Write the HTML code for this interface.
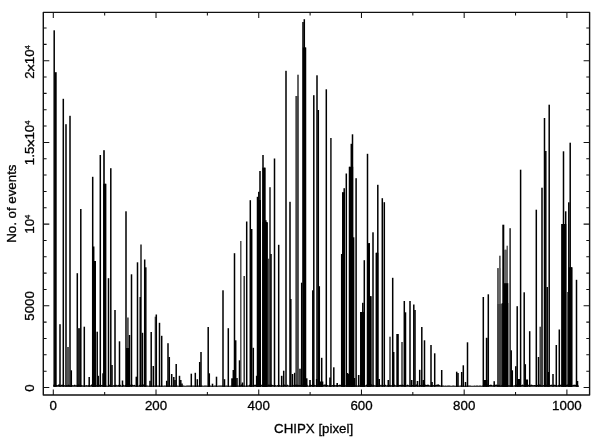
<!DOCTYPE html>
<html><head><meta charset="utf-8"><title>CHIPX histogram</title>
<style>
html,body{margin:0;padding:0;background:#fff;}
svg{display:block}
text{font-family:"Liberation Sans",Arial,Helvetica,sans-serif;font-size:13.3px;fill:#000;stroke:#000;stroke-width:0.3px}
</style></head><body>
<svg width="600" height="438" viewBox="0 0 600 438">
<rect width="600" height="438" fill="#fff"/>
<g>
<rect x="53.45" y="30.3" width="1.50" height="356.5" fill="#000"/>
<rect x="54.70" y="72.2" width="2.00" height="314.6" fill="#000"/>
<rect x="62.55" y="98.8" width="1.50" height="288.0" fill="#000"/>
<rect x="65.25" y="124.2" width="1.50" height="262.6" fill="#000"/>
<rect x="69.25" y="115.8" width="1.50" height="271.0" fill="#000"/>
<rect x="59.25" y="324.2" width="1.50" height="62.6" fill="#000"/>
<rect x="66.50" y="347.0" width="3.00" height="39.8" fill="#555"/>
<rect x="70.55" y="370.3" width="1.50" height="16.5" fill="#000"/>
<rect x="76.55" y="273.2" width="1.50" height="113.6" fill="#000"/>
<rect x="77.50" y="328.2" width="3.00" height="58.6" fill="#222"/>
<rect x="80.05" y="209.0" width="1.50" height="177.8" fill="#000"/>
<rect x="83.55" y="326.7" width="1.50" height="60.1" fill="#000"/>
<rect x="88.45" y="377.0" width="1.50" height="9.8" fill="#000"/>
<rect x="91.95" y="176.8" width="1.50" height="210.0" fill="#000"/>
<rect x="92.95" y="246.5" width="1.50" height="140.3" fill="#000"/>
<rect x="94.45" y="261.0" width="1.50" height="125.8" fill="#000"/>
<rect x="92.20" y="261.0" width="3.60" height="125.8" fill="#000"/>
<rect x="96.45" y="331.7" width="1.50" height="55.1" fill="#000"/>
<rect x="97.55" y="375.8" width="1.50" height="11.0" fill="#000"/>
<rect x="99.55" y="155.0" width="1.50" height="231.8" fill="#000"/>
<rect x="102.25" y="373.3" width="1.50" height="13.5" fill="#000"/>
<rect x="103.20" y="150.2" width="1.60" height="236.6" fill="#000"/>
<rect x="104.75" y="183.8" width="1.50" height="203.0" fill="#000"/>
<rect x="103.20" y="183.8" width="3.00" height="203.0" fill="#000"/>
<rect x="107.75" y="278.2" width="1.50" height="108.6" fill="#000"/>
<rect x="110.05" y="168.2" width="1.50" height="218.6" fill="#000"/>
<rect x="111.25" y="365.0" width="1.50" height="21.8" fill="#000"/>
<rect x="114.25" y="310.0" width="1.50" height="76.8" fill="#000"/>
<rect x="118.75" y="341.3" width="1.50" height="45.5" fill="#000"/>
<rect x="121.75" y="380.5" width="1.50" height="6.3" fill="#000"/>
<rect x="125.25" y="211.3" width="1.50" height="175.5" fill="#000"/>
<rect x="126.50" y="317.5" width="2.30" height="69.3" fill="#555"/>
<rect x="128.75" y="335.0" width="1.50" height="51.8" fill="#000"/>
<rect x="126.00" y="348.0" width="3.50" height="38.8" fill="#000"/>
<rect x="130.75" y="274.3" width="1.50" height="112.5" fill="#000"/>
<rect x="135.55" y="376.7" width="1.50" height="10.1" fill="#000"/>
<rect x="136.75" y="262.3" width="1.50" height="124.5" fill="#000"/>
<rect x="140.10" y="244.5" width="1.80" height="142.3" fill="#444"/>
<rect x="139.50" y="297.0" width="1.50" height="89.8" fill="#000"/>
<rect x="141.75" y="332.8" width="1.50" height="54.0" fill="#000"/>
<rect x="143.95" y="259.5" width="1.50" height="127.3" fill="#000"/>
<rect x="145.05" y="267.3" width="1.50" height="119.5" fill="#000"/>
<rect x="150.45" y="332.0" width="1.50" height="54.8" fill="#000"/>
<rect x="152.55" y="366.0" width="1.50" height="20.8" fill="#000"/>
<rect x="149.25" y="380.8" width="1.50" height="6.0" fill="#000"/>
<rect x="154.65" y="316.7" width="1.30" height="70.1" fill="#444"/>
<rect x="155.55" y="314.5" width="1.50" height="72.3" fill="#000"/>
<rect x="158.75" y="322.8" width="1.50" height="64.0" fill="#000"/>
<rect x="160.95" y="335.8" width="1.50" height="51.0" fill="#000"/>
<rect x="165.95" y="380.8" width="1.50" height="6.0" fill="#000"/>
<rect x="167.25" y="343.2" width="1.50" height="43.6" fill="#000"/>
<rect x="168.55" y="357.0" width="1.50" height="29.8" fill="#000"/>
<rect x="170.95" y="374.0" width="1.50" height="12.8" fill="#000"/>
<rect x="173.05" y="377.0" width="1.50" height="9.8" fill="#000"/>
<rect x="174.25" y="380.0" width="1.50" height="6.8" fill="#000"/>
<rect x="175.45" y="364.0" width="1.50" height="22.8" fill="#000"/>
<rect x="178.75" y="375.8" width="1.50" height="11.0" fill="#000"/>
<rect x="180.05" y="380.0" width="1.50" height="6.8" fill="#000"/>
<rect x="181.25" y="383.5" width="1.50" height="3.3" fill="#000"/>
<rect x="190.55" y="373.7" width="1.50" height="13.1" fill="#000"/>
<rect x="194.55" y="372.8" width="1.50" height="14.0" fill="#000"/>
<rect x="196.55" y="379.2" width="1.50" height="7.6" fill="#000"/>
<rect x="198.95" y="362.0" width="1.50" height="24.8" fill="#000"/>
<rect x="200.25" y="352.0" width="1.50" height="34.8" fill="#000"/>
<rect x="207.45" y="327.0" width="1.50" height="59.8" fill="#000"/>
<rect x="208.55" y="373.3" width="1.50" height="13.5" fill="#000"/>
<rect x="211.75" y="383.7" width="1.50" height="3.1" fill="#000"/>
<rect x="215.75" y="376.7" width="1.50" height="10.1" fill="#000"/>
<rect x="222.25" y="290.3" width="1.50" height="96.5" fill="#000"/>
<rect x="223.75" y="379.2" width="1.50" height="7.6" fill="#000"/>
<rect x="227.55" y="328.2" width="1.50" height="58.6" fill="#000"/>
<rect x="231.20" y="378.3" width="5.10" height="8.5" fill="#000"/>
<rect x="232.55" y="370.0" width="1.50" height="16.8" fill="#000"/>
<rect x="233.75" y="253.2" width="1.50" height="133.6" fill="#000"/>
<rect x="234.95" y="340.3" width="1.50" height="46.5" fill="#000"/>
<rect x="236.25" y="378.0" width="1.50" height="8.8" fill="#000"/>
<rect x="238.75" y="360.3" width="1.50" height="26.5" fill="#000"/>
<rect x="240.10" y="241.0" width="1.40" height="145.8" fill="#444"/>
<rect x="243.45" y="276.0" width="1.50" height="110.8" fill="#333"/>
<rect x="245.95" y="221.5" width="1.50" height="165.3" fill="#000"/>
<rect x="249.55" y="200.2" width="1.50" height="186.6" fill="#000"/>
<rect x="250.95" y="229.0" width="1.50" height="157.8" fill="#000"/>
<rect x="252.55" y="347.8" width="1.50" height="39.0" fill="#000"/>
<rect x="256.75" y="196.8" width="1.50" height="190.0" fill="#000"/>
<rect x="258.05" y="191.8" width="1.50" height="195.0" fill="#000"/>
<rect x="259.25" y="171.0" width="1.50" height="215.8" fill="#000"/>
<rect x="257.00" y="200.0" width="4.00" height="186.8" fill="#000"/>
<rect x="262.25" y="155.0" width="1.50" height="231.8" fill="#000"/>
<rect x="263.95" y="167.7" width="1.50" height="219.1" fill="#000"/>
<rect x="262.40" y="167.7" width="3.00" height="219.1" fill="#000"/>
<rect x="265.05" y="220.2" width="1.50" height="166.6" fill="#000"/>
<rect x="266.25" y="222.7" width="1.50" height="164.1" fill="#000"/>
<rect x="262.50" y="222.0" width="5.10" height="164.8" fill="#000"/>
<rect x="268.05" y="258.7" width="1.30" height="128.1" fill="#444"/>
<rect x="269.30" y="187.2" width="1.40" height="199.6" fill="#111"/>
<rect x="270.25" y="254.0" width="1.50" height="132.8" fill="#000"/>
<rect x="273.75" y="158.5" width="1.50" height="228.3" fill="#000"/>
<rect x="277.95" y="244.8" width="1.50" height="142.0" fill="#000"/>
<rect x="282.95" y="370.7" width="1.50" height="16.1" fill="#000"/>
<rect x="285.25" y="70.8" width="1.50" height="316.0" fill="#000"/>
<rect x="289.25" y="201.8" width="1.50" height="185.0" fill="#000"/>
<rect x="290.05" y="299.0" width="1.50" height="87.8" fill="#000"/>
<rect x="293.95" y="372.8" width="1.50" height="14.0" fill="#000"/>
<rect x="295.55" y="96.0" width="1.30" height="290.8" fill="#444"/>
<rect x="297.35" y="74.7" width="1.30" height="312.1" fill="#111"/>
<rect x="295.60" y="96.0" width="2.80" height="290.8" fill="#444"/>
<rect x="299.25" y="368.7" width="1.50" height="18.1" fill="#000"/>
<rect x="300.95" y="282.7" width="1.50" height="104.1" fill="#000"/>
<rect x="302.25" y="22.0" width="1.50" height="364.8" fill="#000"/>
<rect x="303.55" y="19.2" width="1.50" height="367.6" fill="#000"/>
<rect x="304.75" y="47.5" width="1.50" height="339.3" fill="#000"/>
<rect x="302.80" y="47.5" width="3.00" height="339.3" fill="#000"/>
<rect x="312.05" y="290.3" width="1.50" height="96.5" fill="#000"/>
<rect x="313.05" y="95.2" width="1.50" height="291.6" fill="#000"/>
<rect x="316.25" y="75.3" width="1.50" height="311.5" fill="#000"/>
<rect x="317.55" y="110.0" width="1.50" height="276.8" fill="#000"/>
<rect x="318.55" y="286.2" width="1.50" height="100.6" fill="#000"/>
<rect x="320.95" y="357.8" width="1.50" height="29.0" fill="#000"/>
<rect x="325.55" y="89.3" width="1.50" height="297.5" fill="#000"/>
<rect x="330.10" y="138.0" width="1.60" height="248.8" fill="#222"/>
<rect x="333.05" y="367.3" width="1.50" height="19.5" fill="#000"/>
<rect x="241.70" y="382.5" width="1.60" height="4.3" fill="#000"/>
<rect x="250.00" y="382.0" width="1.60" height="4.8" fill="#000"/>
<rect x="255.90" y="375.8" width="1.60" height="11.0" fill="#000"/>
<rect x="280.90" y="375.8" width="1.60" height="11.0" fill="#000"/>
<rect x="291.70" y="374.0" width="1.60" height="12.8" fill="#000"/>
<rect x="305.90" y="378.3" width="1.60" height="8.5" fill="#000"/>
<rect x="309.20" y="380.0" width="1.60" height="6.8" fill="#000"/>
<rect x="315.90" y="379.0" width="1.60" height="7.8" fill="#000"/>
<rect x="329.20" y="377.5" width="1.60" height="9.3" fill="#000"/>
<rect x="336.40" y="383.0" width="1.60" height="3.8" fill="#000"/>
<rect x="319.00" y="381.5" width="4.30" height="5.3" fill="#000"/>
<rect x="340.95" y="254.0" width="1.50" height="132.8" fill="#000"/>
<rect x="342.05" y="192.3" width="1.50" height="194.5" fill="#000"/>
<rect x="343.45" y="188.2" width="1.50" height="198.6" fill="#000"/>
<rect x="342.30" y="192.3" width="2.70" height="194.5" fill="#000"/>
<rect x="345.55" y="173.5" width="1.50" height="213.3" fill="#000"/>
<rect x="348.75" y="166.8" width="1.50" height="220.0" fill="#000"/>
<rect x="350.55" y="143.8" width="1.50" height="243.0" fill="#000"/>
<rect x="351.75" y="134.3" width="1.50" height="252.5" fill="#000"/>
<rect x="352.85" y="237.3" width="1.50" height="149.5" fill="#000"/>
<rect x="349.00" y="166.8" width="4.20" height="220.0" fill="#000"/>
<rect x="355.35" y="178.2" width="1.50" height="208.6" fill="#000"/>
<rect x="360.05" y="312.0" width="1.50" height="74.8" fill="#000"/>
<rect x="362.05" y="302.8" width="1.50" height="84.0" fill="#000"/>
<rect x="363.55" y="260.2" width="1.50" height="126.6" fill="#000"/>
<rect x="360.30" y="312.0" width="4.70" height="74.8" fill="#000"/>
<rect x="366.75" y="153.8" width="1.50" height="233.0" fill="#000"/>
<rect x="368.45" y="243.2" width="1.50" height="143.6" fill="#000"/>
<rect x="367.00" y="243.2" width="3.00" height="143.6" fill="#000"/>
<rect x="369.25" y="296.2" width="1.50" height="90.6" fill="#000"/>
<rect x="367.00" y="296.2" width="4.70" height="90.6" fill="#000"/>
<rect x="372.25" y="232.3" width="1.50" height="154.5" fill="#000"/>
<rect x="375.55" y="252.8" width="1.50" height="134.0" fill="#000"/>
<rect x="377.05" y="184.8" width="1.50" height="202.0" fill="#000"/>
<rect x="376.00" y="252.8" width="2.40" height="134.0" fill="#000"/>
<rect x="381.55" y="198.2" width="1.50" height="188.6" fill="#000"/>
<rect x="383.55" y="202.2" width="1.50" height="184.6" fill="#000"/>
<rect x="389.25" y="336.7" width="1.50" height="50.1" fill="#333"/>
<rect x="391.95" y="277.8" width="1.50" height="109.0" fill="#000"/>
<rect x="392.95" y="352.0" width="1.50" height="34.8" fill="#000"/>
<rect x="396.30" y="334.0" width="2.50" height="52.8" fill="#000"/>
<rect x="401.25" y="342.0" width="1.50" height="44.8" fill="#333"/>
<rect x="403.55" y="301.0" width="1.50" height="85.8" fill="#000"/>
<rect x="404.75" y="312.3" width="1.50" height="74.5" fill="#000"/>
<rect x="409.25" y="301.0" width="1.50" height="85.8" fill="#000"/>
<rect x="413.05" y="304.5" width="1.50" height="82.3" fill="#000"/>
<rect x="414.25" y="310.0" width="1.50" height="76.8" fill="#000"/>
<rect x="418.95" y="369.8" width="1.50" height="17.0" fill="#000"/>
<rect x="421.05" y="327.0" width="1.50" height="59.8" fill="#000"/>
<rect x="423.75" y="340.3" width="1.50" height="46.5" fill="#000"/>
<rect x="430.25" y="345.0" width="1.50" height="41.8" fill="#000"/>
<rect x="433.95" y="353.3" width="1.50" height="33.5" fill="#000"/>
<rect x="347.50" y="374.0" width="1.60" height="12.8" fill="#000"/>
<rect x="353.70" y="378.0" width="1.60" height="8.8" fill="#000"/>
<rect x="357.90" y="375.0" width="1.60" height="11.8" fill="#000"/>
<rect x="378.40" y="379.0" width="1.60" height="7.8" fill="#000"/>
<rect x="387.50" y="380.0" width="1.60" height="6.8" fill="#000"/>
<rect x="410.90" y="380.0" width="1.60" height="6.8" fill="#000"/>
<rect x="416.70" y="381.0" width="1.60" height="5.8" fill="#000"/>
<rect x="422.50" y="380.0" width="1.60" height="6.8" fill="#000"/>
<rect x="431.20" y="382.0" width="1.60" height="4.8" fill="#000"/>
<rect x="346.70" y="373.0" width="1.60" height="13.8" fill="#000"/>
<rect x="440.95" y="370.0" width="1.50" height="16.8" fill="#000"/>
<rect x="455.95" y="371.7" width="1.50" height="15.1" fill="#000"/>
<rect x="457.25" y="373.0" width="1.50" height="13.8" fill="#000"/>
<rect x="460.95" y="372.0" width="1.50" height="14.8" fill="#000"/>
<rect x="462.55" y="365.3" width="1.50" height="21.5" fill="#000"/>
<rect x="464.75" y="382.0" width="1.50" height="4.8" fill="#000"/>
<rect x="466.75" y="342.3" width="1.50" height="44.5" fill="#000"/>
<rect x="482.55" y="297.0" width="1.50" height="89.8" fill="#000"/>
<rect x="485.80" y="337.8" width="1.80" height="49.0" fill="#000"/>
<rect x="487.55" y="294.3" width="1.50" height="92.5" fill="#000"/>
<rect x="483.00" y="380.0" width="4.50" height="6.8" fill="#000"/>
<rect x="493.45" y="381.2" width="1.50" height="5.6" fill="#000"/>
<rect x="497.10" y="268.2" width="1.40" height="118.6" fill="#333"/>
<rect x="499.20" y="255.7" width="1.40" height="131.1" fill="#333"/>
<rect x="497.30" y="268.2" width="3.30" height="118.6" fill="#666"/>
<rect x="500.50" y="303.5" width="1.90" height="83.3" fill="#555"/>
<rect x="497.30" y="304.0" width="5.00" height="82.8" fill="#444"/>
<rect x="502.30" y="224.7" width="2.00" height="162.1" fill="#000"/>
<rect x="504.85" y="249.8" width="1.30" height="137.0" fill="#444"/>
<rect x="506.55" y="245.7" width="1.30" height="141.1" fill="#444"/>
<rect x="504.00" y="249.8" width="4.00" height="137.0" fill="#666"/>
<rect x="503.50" y="283.2" width="4.80" height="103.6" fill="#000"/>
<rect x="502.20" y="303.0" width="6.10" height="83.8" fill="#000"/>
<rect x="509.45" y="228.2" width="1.30" height="158.6" fill="#000"/>
<rect x="510.45" y="350.3" width="1.50" height="36.5" fill="#000"/>
<rect x="511.55" y="370.3" width="1.50" height="16.5" fill="#000"/>
<rect x="515.05" y="366.2" width="1.50" height="20.6" fill="#000"/>
<rect x="516.45" y="306.2" width="1.50" height="80.6" fill="#000"/>
<rect x="519.85" y="169.7" width="1.50" height="217.1" fill="#000"/>
<rect x="523.45" y="292.3" width="1.50" height="94.5" fill="#000"/>
<rect x="524.55" y="364.2" width="1.50" height="22.6" fill="#000"/>
<rect x="528.95" y="331.2" width="1.50" height="55.6" fill="#000"/>
<rect x="535.55" y="209.7" width="1.50" height="177.1" fill="#000"/>
<rect x="537.75" y="357.0" width="1.50" height="29.8" fill="#000"/>
<rect x="539.50" y="326.7" width="1.40" height="60.1" fill="#333"/>
<rect x="541.25" y="187.7" width="1.50" height="199.1" fill="#000"/>
<rect x="543.75" y="118.0" width="1.50" height="268.8" fill="#000"/>
<rect x="545.05" y="151.0" width="1.50" height="235.8" fill="#000"/>
<rect x="546.45" y="287.0" width="1.50" height="99.8" fill="#000"/>
<rect x="547.55" y="372.0" width="1.50" height="14.8" fill="#000"/>
<rect x="548.45" y="104.7" width="1.50" height="282.1" fill="#000"/>
<rect x="517.00" y="379.0" width="3.50" height="7.8" fill="#000"/>
<rect x="525.00" y="379.5" width="3.00" height="7.3" fill="#000"/>
<rect x="552.25" y="374.0" width="1.50" height="12.8" fill="#000"/>
<rect x="555.55" y="345.0" width="1.50" height="41.8" fill="#000"/>
<rect x="558.55" y="329.5" width="1.50" height="57.3" fill="#000"/>
<rect x="561.25" y="224.0" width="1.50" height="162.8" fill="#000"/>
<rect x="562.75" y="151.3" width="1.50" height="235.5" fill="#000"/>
<rect x="564.95" y="211.3" width="1.50" height="175.5" fill="#000"/>
<rect x="561.50" y="224.0" width="4.80" height="162.8" fill="#000"/>
<rect x="566.30" y="292.0" width="2.30" height="94.8" fill="#555"/>
<rect x="568.05" y="202.3" width="1.50" height="184.5" fill="#000"/>
<rect x="569.45" y="142.7" width="1.50" height="244.1" fill="#000"/>
<rect x="570.95" y="267.3" width="1.50" height="119.5" fill="#000"/>
<rect x="568.40" y="267.3" width="3.80" height="119.5" fill="#000"/>
<rect x="575.75" y="279.8" width="1.50" height="107.0" fill="#000"/>
<rect x="576.75" y="381.0" width="1.50" height="5.8" fill="#000"/>
<path d="M53.3,386.8 L53.3,384.6 L54.3,385.1 L55.4,384.8 L56.4,385.1 L57.4,385.2 L58.4,384.4 L59.5,384.3 L60.5,385.5 L61.5,384.7 L62.5,384.6 L63.6,385.7 L64.6,385.0 L65.6,385.5 L66.7,385.0 L67.7,385.2 L68.7,384.5 L69.7,385.2 L70.8,385.5 L71.8,385.0 L72.8,385.3 L73.8,385.2 L74.9,384.4 L75.9,385.4 L76.9,385.1 L78.0,384.7 L79.0,384.3 L80.0,385.5 L81.0,385.0 L82.1,385.3 L83.1,385.5 L84.1,385.3 L85.1,385.6 L86.2,384.9 L87.2,385.4 L88.2,384.9 L89.3,385.6 L90.3,385.5 L91.3,384.4 L92.3,384.5 L93.4,384.6 L94.4,385.7 L95.4,384.9 L96.4,385.2 L97.5,384.7 L98.5,385.0 L99.5,384.8 L100.6,384.8 L101.6,385.1 L102.6,385.1 L103.6,385.6 L104.7,385.3 L105.7,385.6 L106.7,385.5 L107.7,385.7 L108.8,385.2 L109.8,384.5 L110.8,385.5 L111.9,385.7 L112.9,385.6 L113.9,385.1 L114.9,385.3 L116.0,384.6 L117.0,385.5 L118.0,385.1 L119.0,384.7 L120.1,384.4 L121.1,385.5 L122.1,385.7 L123.1,384.4 L124.2,385.4 L125.2,384.9 L126.2,384.5 L127.3,384.7 L128.3,385.4 L129.3,385.5 L130.3,384.4 L131.4,385.2 L132.4,384.4 L133.4,385.3 L134.4,384.8 L135.5,385.5 L136.5,385.7 L137.5,385.0 L138.6,385.7 L139.6,384.7 L140.6,384.4 L141.6,385.1 L142.7,384.3 L143.7,384.6 L144.7,384.9 L145.7,385.2 L146.8,385.5 L147.8,385.4 L148.8,385.7 L149.9,385.5 L150.9,385.8 L151.9,385.8 L152.9,385.6 L154.0,385.6 L155.0,385.6 L156.0,385.7 L157.0,385.6 L158.1,385.6 L159.1,385.6 L160.1,385.8 L161.2,385.6 L162.2,385.6 L163.2,385.7 L164.2,385.5 L165.3,385.5 L166.3,385.8 L167.3,385.6 L168.3,385.6 L169.4,385.4 L170.4,385.6 L171.4,385.6 L172.5,385.4 L173.5,385.6 L174.5,385.7 L175.5,385.4 L176.6,385.7 L177.6,385.6 L178.6,385.7 L179.6,385.5 L180.7,385.7 L181.7,385.7 L182.7,385.4 L183.8,385.4 L184.8,385.7 L185.8,385.8 L186.8,385.5 L187.9,385.6 L188.9,385.6 L189.9,385.5 L190.9,385.5 L192.0,385.5 L193.0,385.5 L194.0,385.6 L195.1,385.5 L196.1,385.6 L197.1,385.7 L198.1,385.4 L199.2,385.6 L200.2,385.7 L201.2,385.5 L202.2,385.5 L203.3,385.7 L204.3,385.5 L205.3,385.5 L206.4,385.6 L207.4,385.7 L208.4,385.4 L209.4,385.5 L210.5,385.5 L211.5,385.7 L212.5,385.6 L213.5,385.7 L214.6,385.5 L215.6,385.5 L216.6,385.7 L217.7,385.8 L218.7,385.6 L219.7,385.5 L220.7,385.4 L221.8,385.6 L222.8,385.5 L223.8,385.7 L224.8,385.7 L225.9,385.5 L226.9,385.5 L227.9,385.7 L229.0,385.7 L230.0,385.7 L231.0,385.5 L232.0,385.5 L233.1,385.5 L234.1,385.7 L235.1,385.5 L236.1,385.5 L237.2,385.6 L238.2,385.6 L239.2,385.6 L240.3,385.6 L241.3,384.5 L242.3,384.3 L243.3,385.6 L244.4,385.5 L245.4,385.7 L246.4,384.9 L247.4,385.6 L248.5,385.6 L249.5,384.6 L250.5,385.3 L251.5,385.5 L252.6,385.2 L253.6,385.0 L254.6,384.7 L255.7,384.8 L256.7,384.6 L257.7,384.4 L258.7,385.1 L259.8,384.7 L260.8,385.4 L261.8,384.4 L262.8,385.6 L263.9,385.3 L264.9,385.6 L265.9,385.6 L267.0,385.6 L268.0,385.1 L269.0,384.3 L270.0,385.3 L271.1,384.5 L272.1,384.7 L273.1,385.2 L274.1,385.0 L275.2,384.9 L276.2,385.6 L277.2,385.2 L278.3,384.8 L279.3,384.7 L280.3,385.5 L281.3,385.0 L282.4,385.4 L283.4,384.8 L284.4,384.6 L285.4,385.0 L286.5,385.4 L287.5,384.5 L288.5,385.4 L289.6,385.6 L290.6,385.4 L291.6,385.5 L292.6,384.3 L293.7,385.2 L294.7,385.5 L295.7,384.4 L296.7,384.7 L297.8,384.7 L298.8,385.0 L299.8,384.9 L300.9,385.0 L301.9,385.4 L302.9,384.3 L303.9,384.4 L305.0,384.5 L306.0,384.5 L307.0,384.4 L308.0,385.7 L309.1,385.5 L310.1,384.4 L311.1,385.0 L312.2,384.7 L313.2,384.7 L314.2,384.8 L315.2,385.2 L316.3,385.1 L317.3,384.8 L318.3,384.6 L319.3,384.8 L320.4,384.5 L321.4,385.1 L322.4,385.3 L323.5,384.8 L324.5,384.4 L325.5,384.5 L326.5,384.8 L327.6,385.1 L328.6,385.4 L329.6,384.8 L330.6,385.4 L331.7,385.2 L332.7,384.9 L333.7,384.8 L334.8,385.0 L335.8,385.3 L336.8,384.9 L337.8,385.3 L338.9,384.9 L339.9,384.6 L340.9,385.1 L341.9,385.3 L343.0,384.4 L344.0,384.9 L345.0,384.9 L346.1,385.5 L347.1,385.6 L348.1,384.8 L349.1,385.6 L350.2,385.4 L351.2,384.7 L352.2,384.9 L353.2,384.5 L354.3,385.4 L355.3,385.2 L356.3,385.5 L357.4,385.4 L358.4,385.2 L359.4,385.3 L360.4,385.1 L361.5,384.4 L362.5,385.1 L363.5,384.3 L364.5,384.5 L365.6,385.4 L366.6,384.4 L367.6,384.4 L368.7,384.4 L369.7,385.5 L370.7,384.6 L371.7,384.3 L372.8,385.5 L373.8,384.5 L374.8,385.5 L375.8,385.2 L376.9,385.5 L377.9,385.6 L378.9,385.1 L379.9,385.4 L381.0,384.4 L382.0,385.4 L383.0,385.0 L384.1,385.3 L385.1,384.4 L386.1,385.3 L387.1,385.6 L388.2,384.4 L389.2,384.8 L390.2,385.1 L391.2,385.5 L392.3,384.6 L393.3,384.6 L394.3,384.6 L395.4,385.2 L396.4,385.4 L397.4,384.9 L398.4,384.8 L399.5,384.9 L400.5,384.8 L401.5,384.9 L402.5,384.4 L403.6,385.0 L404.6,385.7 L405.6,384.9 L406.7,385.3 L407.7,384.5 L408.7,385.3 L409.7,385.4 L410.8,385.2 L411.8,385.0 L412.8,385.0 L413.8,385.2 L414.9,385.6 L415.9,384.5 L416.9,384.4 L418.0,385.3 L419.0,385.6 L420.0,385.0 L421.0,384.9 L422.1,385.3 L423.1,384.6 L424.1,384.7 L425.1,384.6 L426.2,385.1 L427.2,384.7 L428.2,384.6 L429.3,385.3 L430.3,385.6 L431.3,384.7 L432.3,385.3 L433.4,384.9 L434.4,385.5 L435.4,385.1 L436.4,384.7 L437.5,384.6 L438.5,384.3 L439.5,385.0 L440.6,385.6 L441.6,385.5 L442.6,385.5 L443.6,385.5 L444.7,385.7 L445.7,385.5 L446.7,385.8 L447.7,385.6 L448.8,385.6 L449.8,385.6 L450.8,385.7 L451.9,385.7 L452.9,385.6 L453.9,385.6 L454.9,385.7 L456.0,385.7 L457.0,385.6 L458.0,385.7 L459.0,385.8 L460.1,385.6 L461.1,385.5 L462.1,385.5 L463.2,385.7 L464.2,385.7 L465.2,385.8 L466.2,385.7 L467.3,385.5 L468.3,385.5 L469.3,385.5 L470.3,385.5 L471.4,385.7 L472.4,385.7 L473.4,385.8 L474.5,385.5 L475.5,385.7 L476.5,385.5 L477.5,385.6 L478.6,385.7 L479.6,385.4 L480.6,385.4 L481.6,385.7 L482.7,385.5 L483.7,384.8 L484.7,385.1 L485.8,385.2 L486.8,384.3 L487.8,384.8 L488.8,384.9 L489.9,385.0 L490.9,384.6 L491.9,385.1 L492.9,385.6 L494.0,384.8 L495.0,385.1 L496.0,384.5 L497.1,384.7 L498.1,385.2 L499.1,384.5 L500.1,385.5 L501.2,385.6 L502.2,384.4 L503.2,385.6 L504.2,384.8 L505.3,385.4 L506.3,385.4 L507.3,384.7 L508.3,385.2 L509.4,385.2 L510.4,385.4 L511.4,384.7 L512.5,385.4 L513.5,385.6 L514.5,385.2 L515.5,385.1 L516.6,384.5 L517.6,385.0 L518.6,384.8 L519.6,385.3 L520.7,385.2 L521.7,385.1 L522.7,384.6 L523.8,385.2 L524.8,385.2 L525.8,384.6 L526.8,385.5 L527.9,385.2 L528.9,384.5 L529.9,385.6 L530.9,384.5 L532.0,384.8 L533.0,385.3 L534.0,385.1 L535.1,385.1 L536.1,385.2 L537.1,384.9 L538.1,384.7 L539.2,384.5 L540.2,384.4 L541.2,385.3 L542.2,385.4 L543.3,385.1 L544.3,385.3 L545.3,384.8 L546.4,384.7 L547.4,384.8 L548.4,385.5 L549.4,384.4 L550.5,385.0 L551.5,384.6 L552.5,385.4 L553.5,384.8 L554.6,384.8 L555.6,384.9 L556.6,385.1 L557.7,385.4 L558.7,384.8 L559.7,385.5 L560.7,384.5 L561.8,384.7 L562.8,384.4 L563.8,384.5 L564.8,385.4 L565.9,385.3 L566.9,384.6 L567.9,384.6 L569.0,384.9 L570.0,385.3 L571.0,385.4 L572.0,385.3 L573.1,385.1 L574.1,384.5 L575.1,384.9 L576.1,384.6 L577.2,385.0 L578.2,385.1 L579.2,386.8 Z" fill="#000"/>
</g>
<g>
<rect x="43.3" y="12.4" width="546.3000000000001" height="382.6" fill="none" stroke="#111" stroke-width="1.4" stroke-linejoin="round"/>
<path d="M53.30,395.0v-5.6M53.30,12.4v5.6" stroke="#111" stroke-width="1.05"/>
<path d="M104.66,395.0v-3.0M104.66,12.4v3.0" stroke="#111" stroke-width="1.05"/>
<path d="M156.02,395.0v-5.6M156.02,12.4v5.6" stroke="#111" stroke-width="1.05"/>
<path d="M207.38,395.0v-3.0M207.38,12.4v3.0" stroke="#111" stroke-width="1.05"/>
<path d="M258.74,395.0v-5.6M258.74,12.4v5.6" stroke="#111" stroke-width="1.05"/>
<path d="M310.10,395.0v-3.0M310.10,12.4v3.0" stroke="#111" stroke-width="1.05"/>
<path d="M361.46,395.0v-5.6M361.46,12.4v5.6" stroke="#111" stroke-width="1.05"/>
<path d="M412.82,395.0v-3.0M412.82,12.4v3.0" stroke="#111" stroke-width="1.05"/>
<path d="M464.18,395.0v-5.6M464.18,12.4v5.6" stroke="#111" stroke-width="1.05"/>
<path d="M515.54,395.0v-3.0M515.54,12.4v3.0" stroke="#111" stroke-width="1.05"/>
<path d="M566.90,395.0v-5.6M566.90,12.4v5.6" stroke="#111" stroke-width="1.05"/>
<path d="M43.3,387.50h6.0M589.6,387.50h-6.0" stroke="#111" stroke-width="1.05"/>
<path d="M43.3,371.16h3.3M589.6,371.16h-3.3" stroke="#111" stroke-width="1.05"/>
<path d="M43.3,354.82h3.3M589.6,354.82h-3.3" stroke="#111" stroke-width="1.05"/>
<path d="M43.3,338.48h3.3M589.6,338.48h-3.3" stroke="#111" stroke-width="1.05"/>
<path d="M43.3,322.14h3.3M589.6,322.14h-3.3" stroke="#111" stroke-width="1.05"/>
<path d="M43.3,305.80h6.0M589.6,305.80h-6.0" stroke="#111" stroke-width="1.05"/>
<path d="M43.3,289.46h3.3M589.6,289.46h-3.3" stroke="#111" stroke-width="1.05"/>
<path d="M43.3,273.12h3.3M589.6,273.12h-3.3" stroke="#111" stroke-width="1.05"/>
<path d="M43.3,256.78h3.3M589.6,256.78h-3.3" stroke="#111" stroke-width="1.05"/>
<path d="M43.3,240.44h3.3M589.6,240.44h-3.3" stroke="#111" stroke-width="1.05"/>
<path d="M43.3,224.10h6.0M589.6,224.10h-6.0" stroke="#111" stroke-width="1.05"/>
<path d="M43.3,207.76h3.3M589.6,207.76h-3.3" stroke="#111" stroke-width="1.05"/>
<path d="M43.3,191.42h3.3M589.6,191.42h-3.3" stroke="#111" stroke-width="1.05"/>
<path d="M43.3,175.08h3.3M589.6,175.08h-3.3" stroke="#111" stroke-width="1.05"/>
<path d="M43.3,158.74h3.3M589.6,158.74h-3.3" stroke="#111" stroke-width="1.05"/>
<path d="M43.3,142.40h6.0M589.6,142.40h-6.0" stroke="#111" stroke-width="1.05"/>
<path d="M43.3,126.06h3.3M589.6,126.06h-3.3" stroke="#111" stroke-width="1.05"/>
<path d="M43.3,109.72h3.3M589.6,109.72h-3.3" stroke="#111" stroke-width="1.05"/>
<path d="M43.3,93.38h3.3M589.6,93.38h-3.3" stroke="#111" stroke-width="1.05"/>
<path d="M43.3,77.04h3.3M589.6,77.04h-3.3" stroke="#111" stroke-width="1.05"/>
<path d="M43.3,60.70h6.0M589.6,60.70h-6.0" stroke="#111" stroke-width="1.05"/>
<path d="M43.3,44.36h3.3M589.6,44.36h-3.3" stroke="#111" stroke-width="1.05"/>
<path d="M43.3,28.02h3.3M589.6,28.02h-3.3" stroke="#111" stroke-width="1.05"/>
</g>
<g>
<text x="53.3" y="409.6" text-anchor="middle">0</text>
<text x="156.0" y="409.6" text-anchor="middle">200</text>
<text x="258.7" y="409.6" text-anchor="middle">400</text>
<text x="361.5" y="409.6" text-anchor="middle">600</text>
<text x="464.2" y="409.6" text-anchor="middle">800</text>
<text x="566.9" y="409.6" text-anchor="middle">1000</text>
<text x="313.6" y="433.2" text-anchor="middle">CHIPX [pixel]</text>
<text transform="translate(34.2,388.1) rotate(-90)" text-anchor="middle">0</text>
<text transform="translate(34.2,305.9) rotate(-90)" text-anchor="middle">5000</text>
<text transform="translate(34.2,224.2) rotate(-90)" text-anchor="middle">10<tspan dy="-4.0" font-size="7.8">4</tspan></text>
<text transform="translate(34.2,142.8) rotate(-90)" text-anchor="middle">1.5<tspan font-size="15" dy="1.5" dx="-0.8">×</tspan><tspan dy="-1.5" dx="-0.8">10</tspan><tspan dy="-4.0" font-size="7.8">4</tspan></text>
<text transform="translate(34.2,61.9) rotate(-90)" text-anchor="middle">2<tspan font-size="15" dy="1.5" dx="-0.8">×</tspan><tspan dy="-1.5" dx="-0.8">10</tspan><tspan dy="-4.0" font-size="7.8">4</tspan></text>
<text transform="translate(16.3,203.7) rotate(-90)" text-anchor="middle">No. of events</text>
</g>
</svg>
</body></html>
